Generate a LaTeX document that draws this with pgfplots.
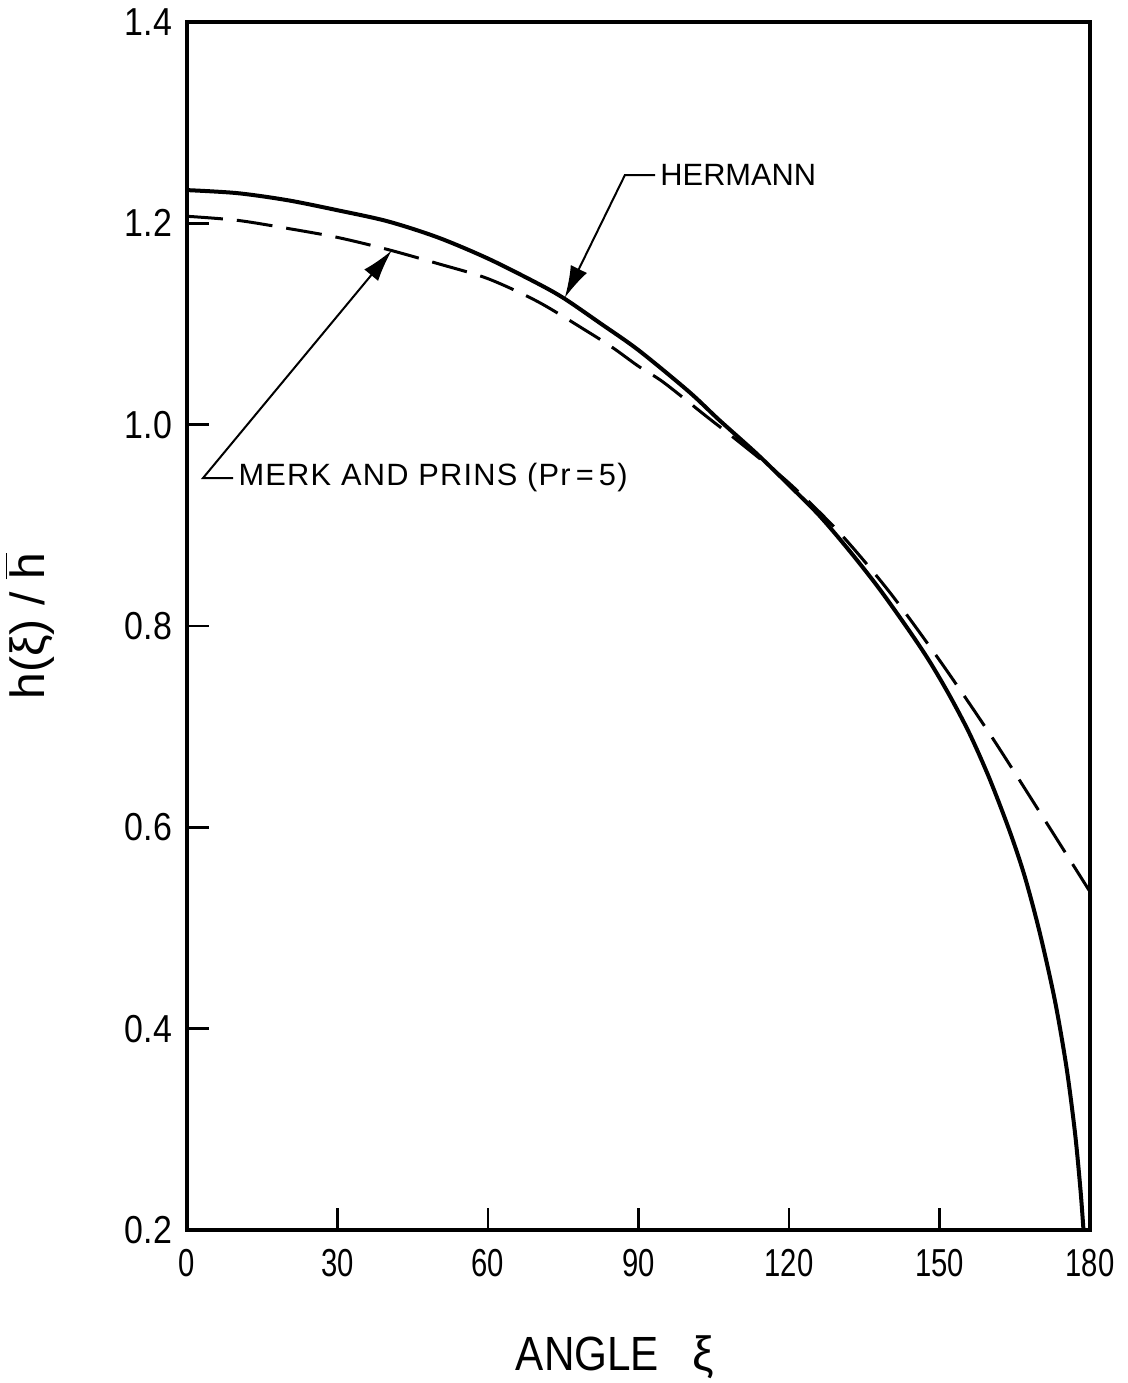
\documentclass[border=0pt]{standalone}
\usepackage{pgfplots}
\pgfplotsset{compat=1.18}
\usepackage{fontspec}
\setmainfont{Liberation Sans}
\usepackage{graphicx}
\usetikzlibrary{arrows.meta}
\newcommand\xl[1]{\scalebox{0.75}[1]{#1}}
\newcommand\yl[1]{\scalebox{0.87}[1]{#1}}
\begin{document}
\begin{tikzpicture}
\begin{axis}[
  scale only axis, width=451.5pt, height=604pt,
  xmin=0, xmax=180, ymin=0.2, ymax=1.4,
  axis line style={line width=1.6pt},
  xtick={0,30,60,90,120,150,180},
  ytick={0.2,0.4,0.6,0.8,1.0,1.2,1.4},
  xticklabels={\xl{0},\xl{30},\xl{60},\xl{90},\xl{120},\xl{150},\xl{180}},
  yticklabels={\yl{0.2},\yl{0.4},\yl{0.6},\yl{0.8},\yl{1.0},\yl{1.2},\yl{1.4}},
  tick align=inside, xtick pos=bottom, ytick pos=left,
  major tick length=11pt,
  tick style={line width=1.2pt, black},
  ticklabel style={font=\fontsize{19.5}{20}\selectfont},
  xticklabel style={yshift=-6pt},
  yticklabel style={xshift=-4pt},
  xlabel={\scalebox{0.88}[1]{ANGLE}\hspace{0.7em}ξ},
  ylabel={h(ξ)\;/\;$\overline{\mbox{h}}$},
  xlabel style={font=\fontsize{24}{24}\selectfont, at={(axis description cs:0.474,-0.116)}, anchor=base},
  ylabel style={font=\fontsize{24}{24}\selectfont, at={(axis description cs:-0.174,0.5)}, anchor=center},
]
% Hermann (solid)
\addplot[black, line width=2pt, smooth, tension=0.5] coordinates {
(0,1.233) (10,1.230) (20,1.223) (30,1.213) (40,1.202) (50,1.186) (60,1.165)
(70,1.140) (75.3,1.125) (82.3,1.101) (90,1.074) (100,1.033) (106,1.005)
(113.6,0.971) (120,0.940) (126,0.910) (132,0.875) (138,0.837) (144,0.795)
(148,0.765) (152,0.731) (156,0.693) (160,0.648) (164,0.596) (167,0.551) (170,0.495)
(173,0.428) (175.3,0.362) (177,0.297) (178.1,0.240) (178.7,0.2)
};
% Merk and Prins (dashed)
\addplot[black, line width=1.5pt, smooth, tension=0.5, dash pattern=on 18pt off 7pt] coordinates {
(0,1.207) (10,1.203) (20,1.195) (30,1.186) (40,1.174) (50,1.160) (60,1.145)
(70,1.122) (80,1.092) (85,1.076) (90,1.058) (95,1.042) (103.6,1.008) (110,0.983)
(120,0.942) (130,0.893) (140,0.834) (150,0.766) (160,0.693) (170,0.615) (180,0.536)
};
% annotations
\draw[line width=1pt, -{Latex[length=16pt,width=9pt]}]
  (axis cs:93.3,1.248) -- (axis cs:87.3,1.248) -- (axis cs:75.3,1.126);
\node[anchor=west, inner sep=0pt, font=\fontsize{15.4}{16}\selectfont] at (axis cs:94.3,1.248) {HERMANN};
\draw[line width=1pt, -{Latex[length=16pt,width=9pt]}]
  (axis cs:9.2,0.947) -- (axis cs:3.2,0.947) -- (axis cs:40.8,1.173);
\node[anchor=west, inner sep=0pt, font=\fontsize{15.4}{16}\selectfont\addfontfeature{LetterSpace=4}] at (axis cs:10.2,0.947) {MERK AND PRINS (Pr\,=\,5)};
\end{axis}
\pgfresetboundingbox
\path[use as bounding box] (-93.5pt,-76.5pt) rectangle (470.5pt,615pt);
\end{tikzpicture}
\end{document}
